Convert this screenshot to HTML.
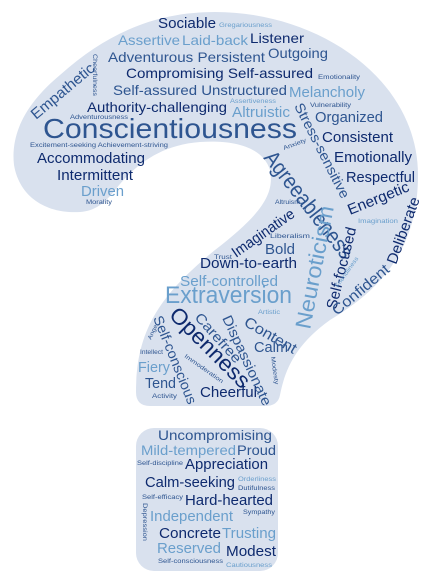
<!DOCTYPE html>
<html><head><meta charset="utf-8">
<style>
html,body{margin:0;padding:0;background:#fff;}
svg{display:block;}
text{font-family:"Liberation Sans",Arial,sans-serif;}
.n{fill:#0e2a6e}.m{fill:#2e5590}.l{fill:#6a9fcc}
</style></head>
<body>
<svg width="429" height="579" viewBox="0 0 429 579">
<path fill="#d9e1ee" d="M 80 212 C 50 214, 20 200, 14 165 C 10 130, 30 100, 60 75 C 110 30, 160 12, 215 12 C 320 12, 418 80, 418 175 C 418 250, 380 290, 330 320 C 295 345, 285 370, 280 395 Q 278 406, 265 406 L 150 406 Q 136 406, 136 392 C 136 330, 160 295, 215 250 C 260 215, 275 195, 270 170 C 262 145, 230 140, 200 142 C 160 145, 135 165, 115 190 C 105 203, 95 211, 80 212 Z"/>
<rect x="136" y="428" width="142" height="143" rx="18" fill="#d9e1ee"/>

<g lengthAdjust="spacingAndGlyphs">
<text class="n" x="158" y="28" font-size="15" textLength="58" lengthAdjust="spacingAndGlyphs">Sociable</text>
<text class="l" x="219" y="27" font-size="6" textLength="53" lengthAdjust="spacingAndGlyphs">Gregariousness</text>
<text class="l" x="118" y="45" font-size="14" textLength="62" lengthAdjust="spacingAndGlyphs">Assertive</text>
<text class="l" x="182" y="45" font-size="14" textLength="66" lengthAdjust="spacingAndGlyphs">Laid-back</text>
<text class="n" x="250" y="43" font-size="14" textLength="54" lengthAdjust="spacingAndGlyphs">Listener</text>
<text class="m" x="108" y="62" font-size="14" textLength="157" lengthAdjust="spacingAndGlyphs">Adventurous Persistent</text>
<text class="m" x="268" y="58" font-size="14" textLength="60" lengthAdjust="spacingAndGlyphs">Outgoing</text>
<text class="n" x="126" y="78" font-size="14" textLength="187" lengthAdjust="spacingAndGlyphs">Compromising Self-assured</text>
<text class="m" x="318" y="79" font-size="6" textLength="42" lengthAdjust="spacingAndGlyphs">Emotionality</text>
<text class="m" x="113" y="95" font-size="14" textLength="174" lengthAdjust="spacingAndGlyphs">Self-assured Unstructured</text>
<text class="l" x="289" y="97" font-size="15" textLength="76" lengthAdjust="spacingAndGlyphs">Melancholy</text>
<text class="n" x="87" y="112" font-size="14" textLength="140" lengthAdjust="spacingAndGlyphs">Authority-challenging</text>
<text class="l" x="230" y="103" font-size="6" textLength="46" lengthAdjust="spacingAndGlyphs">Assertiveness</text>
<text class="m" x="310" y="107" font-size="6" textLength="41" lengthAdjust="spacingAndGlyphs">Vulnerability</text>
<text class="l" x="232" y="117" font-size="15" textLength="58" lengthAdjust="spacingAndGlyphs">Altruistic</text>
<text class="m" x="70" y="119" font-size="6" textLength="58" lengthAdjust="spacingAndGlyphs">Adventurousness</text>
<text class="m" x="43" y="138" font-size="28" textLength="254" lengthAdjust="spacingAndGlyphs">Conscientiousness</text>
<text class="m" x="315" y="122" font-size="15" textLength="68" lengthAdjust="spacingAndGlyphs">Organized</text>
<text class="n" x="322" y="142" font-size="15" textLength="71" lengthAdjust="spacingAndGlyphs">Consistent</text>
<text class="m" x="30" y="147" font-size="6" textLength="138" lengthAdjust="spacingAndGlyphs">Excitement-seeking Achievement-striving</text>
<text class="n" x="37" y="163" font-size="15" textLength="108" lengthAdjust="spacingAndGlyphs">Accommodating</text>
<text class="n" x="57" y="180" font-size="15" textLength="76" lengthAdjust="spacingAndGlyphs">Intermittent</text>
<text class="l" x="81" y="196" font-size="15" textLength="43" lengthAdjust="spacingAndGlyphs">Driven</text>
<text class="m" x="86" y="204" font-size="6" textLength="26" lengthAdjust="spacingAndGlyphs">Morality</text>
<text class="n" x="334" y="162" font-size="15" textLength="78" lengthAdjust="spacingAndGlyphs">Emotionally</text>
<text class="n" x="346" y="182" font-size="15" textLength="69" lengthAdjust="spacingAndGlyphs">Respectful</text>
<text class="m" x="275" y="204" font-size="6" textLength="25" lengthAdjust="spacingAndGlyphs">Altruism</text>
<text class="m" x="270" y="238" font-size="6" textLength="40" lengthAdjust="spacingAndGlyphs">Liberalism</text>
<text class="m" x="265" y="254" font-size="15" textLength="30" lengthAdjust="spacingAndGlyphs">Bold</text>
<text class="m" x="214" y="259" font-size="6" textLength="18" lengthAdjust="spacingAndGlyphs">Trust</text>
<text class="n" x="200" y="268" font-size="15" textLength="97" lengthAdjust="spacingAndGlyphs">Down-to-earth</text>
<text class="l" x="180" y="286" font-size="15" textLength="98" lengthAdjust="spacingAndGlyphs">Self-controlled</text>
<text class="l" x="165" y="303" font-size="24" textLength="127" lengthAdjust="spacingAndGlyphs">Extraversion</text>
<text class="l" x="358" y="223" font-size="6" textLength="40" lengthAdjust="spacingAndGlyphs">Imagination</text>
<text class="l" x="258" y="314" font-size="6" textLength="22" lengthAdjust="spacingAndGlyphs">Artistic</text>
<text class="m" x="140" y="354" font-size="6" textLength="23" lengthAdjust="spacingAndGlyphs">Intellect</text>
<text class="m" x="254" y="352" font-size="15" textLength="34" lengthAdjust="spacingAndGlyphs">Calm</text>
<text class="l" x="138" y="372" font-size="15" textLength="32" lengthAdjust="spacingAndGlyphs">Fiery</text>
<text class="m" x="145" y="388" font-size="15" textLength="31" lengthAdjust="spacingAndGlyphs">Tend</text>
<text class="m" x="152" y="398" font-size="6" textLength="25" lengthAdjust="spacingAndGlyphs">Activity</text>
<text class="n" x="200" y="397" font-size="15" textLength="57" lengthAdjust="spacingAndGlyphs">Cheerful</text>

<text class="m" transform="translate(36,120) rotate(-40)" font-size="15" textLength="78" lengthAdjust="spacingAndGlyphs">Empathetic</text>
<text class="m" transform="translate(93,54) rotate(90)" font-size="6" textLength="42" lengthAdjust="spacingAndGlyphs">Cheerfulness</text>
<text class="m" transform="translate(294,106) rotate(63)" font-size="14" textLength="105" lengthAdjust="spacingAndGlyphs">Stress-sensitive</text>
<text class="m" transform="translate(263,158) rotate(52)" font-size="22" textLength="130" lengthAdjust="spacingAndGlyphs">Agreeableness</text>
<text class="m" transform="translate(284,150) rotate(-20)" font-size="6" textLength="24" lengthAdjust="spacingAndGlyphs">Anxiety</text>
<text class="n" transform="translate(350,215) rotate(-22)" font-size="15" textLength="65" lengthAdjust="spacingAndGlyphs">Energetic</text>
<text class="n" transform="translate(236,258) rotate(-35)" font-size="15" textLength="73" lengthAdjust="spacingAndGlyphs">Imaginative</text>
<text class="l" transform="translate(310,330) rotate(-79)" font-size="22" textLength="125" lengthAdjust="spacingAndGlyphs">Neuroticism</text>
<text class="n" transform="translate(336,310) rotate(-76)" font-size="15" textLength="84" lengthAdjust="spacingAndGlyphs">Self-focused</text>
<text class="l" transform="translate(338,288) rotate(-55)" font-size="6" textLength="36" lengthAdjust="spacingAndGlyphs">Friendliness</text>
<text class="m" transform="translate(337,316) rotate(-40)" font-size="15" textLength="70" lengthAdjust="spacingAndGlyphs">Confident</text>
<text class="n" transform="translate(396,265) rotate(-70)" font-size="15" textLength="70" lengthAdjust="spacingAndGlyphs">Deliberate</text>
<text class="n" transform="translate(168,316) rotate(45)" font-size="22" textLength="104" lengthAdjust="spacingAndGlyphs">Openness</text>
<text class="m" transform="translate(153,318) rotate(68)" font-size="14" textLength="94" lengthAdjust="spacingAndGlyphs">Self-conscious</text>
<text class="m" transform="translate(194,318) rotate(48)" font-size="14" textLength="62" lengthAdjust="spacingAndGlyphs">Carefree</text>
<text class="m" transform="translate(222,318) rotate(65)" font-size="14" textLength="98" lengthAdjust="spacingAndGlyphs">Dispassionate</text>
<text class="m" transform="translate(243,325) rotate(30)" font-size="15" textLength="58" lengthAdjust="spacingAndGlyphs">Content</text>
<text class="m" transform="translate(151,340) rotate(-65)" font-size="6" textLength="18" lengthAdjust="spacingAndGlyphs">Anger</text>
<text class="m" transform="translate(184,357) rotate(35)" font-size="6" textLength="46" lengthAdjust="spacingAndGlyphs">Immoderation</text>
<text class="m" transform="translate(271,357) rotate(82)" font-size="6" textLength="28" lengthAdjust="spacingAndGlyphs">Modesty</text>

<text class="m" x="158" y="440" font-size="14" textLength="114" lengthAdjust="spacingAndGlyphs">Uncompromising</text>
<text class="l" x="141" y="455" font-size="14" textLength="95" lengthAdjust="spacingAndGlyphs">Mild-tempered</text>
<text class="m" x="237" y="455" font-size="14" textLength="39" lengthAdjust="spacingAndGlyphs">Proud</text>
<text class="m" x="137" y="465" font-size="6" textLength="46" lengthAdjust="spacingAndGlyphs">Self-discipline</text>
<text class="n" x="185" y="469" font-size="15" textLength="83" lengthAdjust="spacingAndGlyphs">Appreciation</text>
<text class="n" x="145" y="487" font-size="15" textLength="90" lengthAdjust="spacingAndGlyphs">Calm-seeking</text>
<text class="l" x="238" y="481" font-size="6" textLength="38" lengthAdjust="spacingAndGlyphs">Orderliness</text>
<text class="m" x="238" y="490" font-size="6" textLength="37" lengthAdjust="spacingAndGlyphs">Dutifulness</text>
<text class="m" x="142" y="499" font-size="6" textLength="41" lengthAdjust="spacingAndGlyphs">Self-efficacy</text>
<text class="n" x="185" y="505" font-size="15" textLength="88" lengthAdjust="spacingAndGlyphs">Hard-hearted</text>
<text class="m" transform="translate(143,503) rotate(90)" font-size="6" textLength="38" lengthAdjust="spacingAndGlyphs">Depression</text>
<text class="m" x="243" y="514" font-size="6" textLength="32" lengthAdjust="spacingAndGlyphs">Sympathy</text>
<text class="l" x="150" y="521" font-size="15" textLength="83" lengthAdjust="spacingAndGlyphs">Independent</text>
<text class="n" x="159" y="538" font-size="15" textLength="62" lengthAdjust="spacingAndGlyphs">Concrete</text>
<text class="l" x="222" y="538" font-size="15" textLength="54" lengthAdjust="spacingAndGlyphs">Trusting</text>
<text class="l" x="157" y="553" font-size="15" textLength="64" lengthAdjust="spacingAndGlyphs">Reserved</text>
<text class="n" x="226" y="556" font-size="15" textLength="50" lengthAdjust="spacingAndGlyphs">Modest</text>
<text class="m" x="158" y="563" font-size="6" textLength="65" lengthAdjust="spacingAndGlyphs">Self-consciousness</text>
<text class="l" x="226" y="567" font-size="6" textLength="46" lengthAdjust="spacingAndGlyphs">Cautiousness</text>
</g>
</svg>
</body></html>
